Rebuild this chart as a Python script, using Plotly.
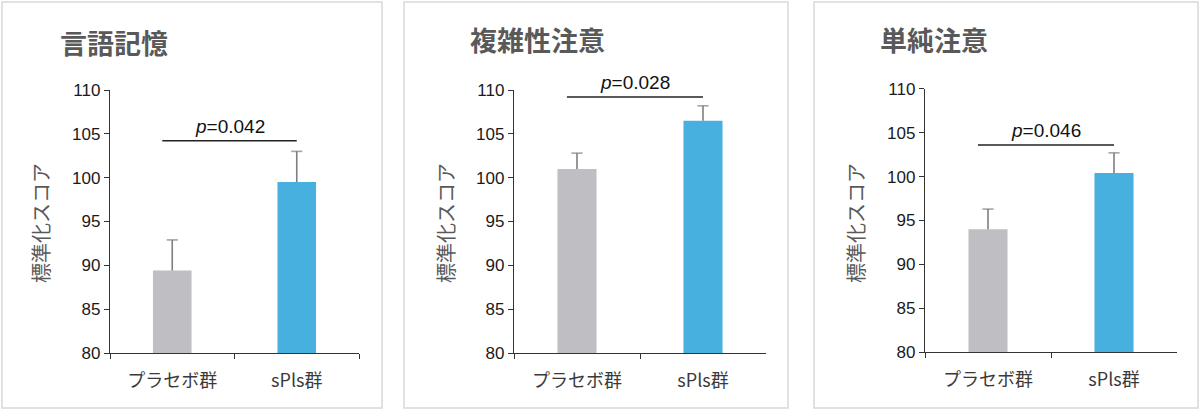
import plotly.graph_objects as go

# data
groups = ['プラセボ群', 'sPls群']
titles = ['言語記憶', '複雑性注意', '単純注意']
means = [[89.4, 99.5], [101.0, 106.5], [94.0, 100.4]]
errors = [[3.5, 3.5], [1.8, 1.7], [2.3, 2.3]]
p_values = ['0.042', '0.028', '0.046']
sig_heights = [104.2, 109.2, 103.6]
y_ticks = [80, 85, 90, 95, 100, 105, 110]
y_label = '標準化スコア'

W, H = 1200, 410
bar_colors = ['#bfbec2', '#47b0de']

# layout in pixels
boxes = [(2, 382), (404, 788), (814, 1198)]
x_doms = [(110, 359), (514, 766), (925, 1177)]
y_doms = [(90, 353), (90, 353), (88.7, 352.3)]
title_x = [58, 468, 878]
title_y = [43, 40, 40]
ylab_x = [40, 445, 855]


def fx(v):
    return v / W


def fy(v):
    return 1 - v / H


fig = go.Figure()
shapes = []
annotations = []
layout = {}

for i in range(3):
    sfx = '' if i == 0 else str(i + 1)
    xa, ya = 'x' + sfx, 'y' + sfx

    fig.add_trace(go.Bar(
        x=groups, y=means[i], xaxis=xa, yaxis=ya,
        width=0.31,
        marker=dict(color=bar_colors, line=dict(width=0)),
        showlegend=False, hoverinfo='skip'))

    # one-sided error bars: stem + cap
    ex, ey, es = [], [], []
    for g, m, e in zip(groups, means[i], errors[i]):
        ex += [g, g, None]
        ey += [m, m + e, None]
        es += [0, 8, 0]
    fig.add_trace(go.Scatter(
        x=ex, y=ey, xaxis=xa, yaxis=ya, mode='lines+markers',
        line=dict(color='#7f7f7f', width=1.6),
        marker=dict(symbol='line-ew', size=es,
                    line=dict(color='#7f7f7f', width=1.6)),
        showlegend=False, hoverinfo='skip', cliponaxis=False))

    layout['xaxis' + sfx] = dict(
        domain=[fx(x_doms[i][0]), fx(x_doms[i][1])], anchor=ya,
        range=[-0.5, 1.5], type='category', automargin=False,
        showline=True, linecolor='#333333', linewidth=1.3,
        ticks='outside', tickson='boundaries', ticklen=5,
        tickcolor='#333333', tickwidth=1.3, showgrid=False, zeroline=False,
        ticklabelstandoff=11,
        tickfont=dict(family='Noto Sans CJK JP', size=18, color='#3a3a3a'))
    layout['yaxis' + sfx] = dict(
        domain=[fy(y_doms[i][1]), fy(y_doms[i][0])], anchor=xa,
        range=[80, 110], tickvals=y_ticks, automargin=False,
        showline=True, linecolor='#333333', linewidth=1.3,
        ticks='outside', ticklen=5, tickcolor='#333333', tickwidth=1.3,
        showgrid=False, zeroline=False,
        tickfont=dict(family='Liberation Sans', size=17, color='#1a1a1a'))

    # panel frame
    shapes.append(dict(type='rect', xref='paper', yref='paper',
                       x0=fx(boxes[i][0]), x1=fx(boxes[i][1]),
                       y0=fy(408), y1=fy(2),
                       line=dict(color='#d9d9d9', width=1.5),
                       fillcolor='rgba(0,0,0,0)', layer='below'))
    # significance bar
    shapes.append(dict(type='line', xref=xa, yref=ya,
                       x0=-0.08, x1=1.0,
                       y0=sig_heights[i], y1=sig_heights[i],
                       line=dict(color='#222222', width=1.5)))
    annotations.append(dict(xref=xa, yref=ya, x=0.46, y=sig_heights[i],
                            yshift=2, yanchor='bottom', showarrow=False,
                            text='<i>p</i>=' + p_values[i],
                            font=dict(family='Liberation Sans', size=19,
                                      color='#111111')))
    annotations.append(dict(xref='paper', yref='paper',
                            x=fx(title_x[i]), y=fy(title_y[i]),
                            xanchor='left', yanchor='middle', showarrow=False,
                            text='<b>' + titles[i] + '</b>',
                            font=dict(family='Noto Sans CJK JP', size=27,
                                      color='#595959')))
    annotations.append(dict(xref='paper', yref='paper',
                            x=fx(ylab_x[i]), y=fy(223),
                            xanchor='center', yanchor='middle',
                            showarrow=False, textangle=-90, text=y_label,
                            font=dict(family='Noto Sans CJK JP', size=20,
                                      color='#595959')))

fig.update_layout(width=W, height=H,
                  margin=dict(l=0, r=0, t=0, b=0, autoexpand=False),
                  paper_bgcolor='white', plot_bgcolor='rgba(0,0,0,0)',
                  shapes=shapes, annotations=annotations, **layout)

fig.write_html("out.html", config={'displayModeBar': False},
               post_script="document.body.style.margin='0px';")
